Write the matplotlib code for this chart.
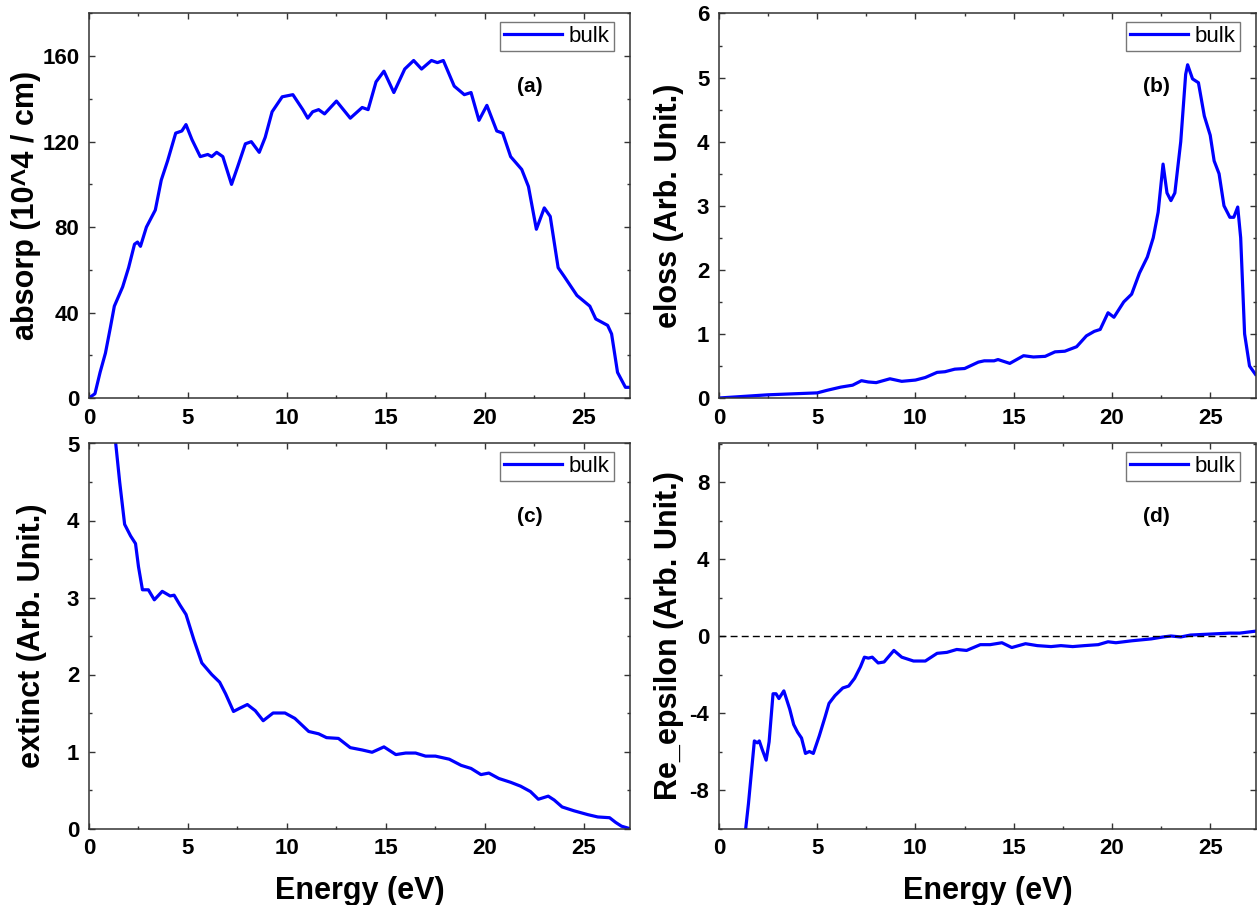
import matplotlib
matplotlib.use('Agg')
import matplotlib.pyplot as plt
from matplotlib.ticker import MultipleLocator, AutoMinorLocator

plt.rcParams['font.family'] = ['Liberation Sans', 'DejaVu Sans']
plt.rcParams['axes.unicode_minus'] = False

# (a) absorption
abs_e = [0, 0.3, 0.56, 0.83, 1.08, 1.28, 1.7, 2.0, 2.3, 2.45, 2.6, 2.9, 3.35, 3.65, 3.97, 4.38,
         4.69, 4.9, 5.2, 5.62, 6.0, 6.2, 6.45, 6.76, 7.2, 7.5, 7.9, 8.2, 8.6, 8.9, 9.25, 9.76,
         10.3, 10.8, 11.05, 11.3, 11.6, 11.9, 12.5, 13.2, 13.8, 14.1, 14.5, 14.9, 15.4, 15.95,
         16.4, 16.8, 17.3, 17.6, 17.9, 18.45, 18.96, 19.3, 19.7, 20.1, 20.6, 20.9, 21.3, 21.86,
         22.2, 22.6, 23.0, 23.3, 23.7, 24.0, 24.65, 25.3, 25.6, 26.2, 26.4, 26.7, 27.1, 27.3]
abs_v = [0, 2, 12, 21, 33, 43, 52, 61, 72, 73, 71, 80, 88, 102, 111, 124,
         125, 128, 121, 113, 114, 113, 115, 113, 100, 108, 119, 120, 115, 122, 134, 141,
         142, 135, 131, 134, 135, 133, 139, 131, 136, 135, 148, 153, 143, 154,
         158, 154, 158, 157, 158, 146, 142, 143, 130, 137, 125, 124, 113, 107,
         99, 79, 89, 85, 61, 57, 48, 43, 37, 34, 30, 12, 5, 5]

# (b) energy loss
loss_e = [0, 2.5, 5, 5.5, 6.2, 6.8, 7.25, 7.6, 8.0, 8.7, 9.3, 10.0, 10.5, 11.1, 11.5, 12.0,
          12.5, 13.2, 13.5, 14.0, 14.2, 14.8, 15.5, 16.0, 16.6, 17.1, 17.6, 18.2, 18.7, 19.1,
          19.4, 19.8, 20.1, 20.6, 21.0, 21.4, 21.8, 22.1, 22.35, 22.6, 22.8, 23.0, 23.2, 23.5,
          23.75, 23.85, 24.1, 24.4, 24.7, 25.0, 25.2, 25.45, 25.7, 26.0, 26.2, 26.4, 26.55,
          26.75, 27.0, 27.3]
loss_v = [0, 0.05, 0.08, 0.12, 0.17, 0.2, 0.27, 0.25, 0.24, 0.3, 0.26, 0.28, 0.32, 0.4, 0.41, 0.45,
          0.46, 0.56, 0.58, 0.58, 0.6, 0.54, 0.66, 0.64, 0.65, 0.72, 0.73, 0.8, 0.97, 1.04,
          1.07, 1.33, 1.26, 1.5, 1.62, 1.95, 2.2, 2.5, 2.9, 3.65, 3.2, 3.08, 3.2, 4.0,
          5.05, 5.2, 4.98, 4.92, 4.4, 4.1, 3.7, 3.5, 3.0, 2.82, 2.82, 2.98, 2.5,
          1.0, 0.5, 0.37]

# (c) extinction
ext_e = [1.35, 1.55, 1.8, 2.1, 2.35, 2.5, 2.7, 3.0, 3.3, 3.7, 4.1, 4.3, 4.6, 4.9, 5.3, 5.7,
         6.2, 6.6, 6.9, 7.3, 7.6, 8.0, 8.4, 8.8, 9.3, 9.9, 10.4, 11.1, 11.6, 12.0, 12.6, 13.2,
         13.8, 14.3, 14.9, 15.5, 16.0, 16.5, 17.0, 17.5, 18.2, 18.8, 19.3, 19.8, 20.2, 20.7,
         21.3, 21.8, 22.3, 22.7, 23.2, 23.5, 23.9, 24.5, 25.2, 25.7, 26.3, 26.6, 26.9, 27.3]
ext_v = [5.0, 4.5, 3.95, 3.8, 3.7, 3.4, 3.1, 3.1, 2.97, 3.08, 3.02, 3.03, 2.9, 2.78, 2.45, 2.15,
         2.0, 1.9, 1.75, 1.52, 1.56, 1.61, 1.53, 1.4, 1.5, 1.5, 1.43, 1.26, 1.23, 1.18, 1.17, 1.05,
         1.02, 0.99, 1.06, 0.96, 0.98, 0.98, 0.94, 0.94, 0.9, 0.82, 0.78, 0.7, 0.72, 0.65,
         0.6, 0.55, 0.48, 0.38, 0.42, 0.37, 0.28, 0.23, 0.18, 0.15, 0.14, 0.08, 0.03, 0.0]

# (d) real part of epsilon
eps_e = [1.36, 1.5, 1.8, 1.95, 2.05, 2.2, 2.4, 2.55, 2.75, 2.9, 3.05, 3.3, 3.6, 3.8, 4.0, 4.2,
         4.4, 4.6, 4.8, 5.1, 5.4, 5.6, 5.9, 6.3, 6.6, 6.9, 7.2, 7.4, 7.6, 7.8, 8.1, 8.4, 8.9,
         9.3, 9.9, 10.5, 11.1, 11.6, 12.1, 12.6, 13.3, 13.8, 14.4, 14.9, 15.6, 16.2, 16.9,
         17.4, 18.0, 18.6, 19.3, 19.8, 20.2, 21.0, 22.0, 22.6, 23.0, 23.5, 24.0, 25.0, 26.0,
         26.5, 27.3]
eps_v = [-10, -8.7, -5.45, -5.55, -5.45, -5.9, -6.45, -5.5, -3.0, -3.0, -3.25, -2.85, -3.8, -4.6,
         -5.0, -5.3, -6.1, -6.0, -6.1, -5.2, -4.2, -3.5, -3.1, -2.7, -2.6, -2.2, -1.6, -1.1,
         -1.15, -1.1, -1.4, -1.35, -0.75, -1.1, -1.3, -1.3, -0.9, -0.85, -0.7, -0.75, -0.45,
         -0.45, -0.35, -0.6, -0.4, -0.5, -0.55, -0.5, -0.55, -0.5, -0.45, -0.3, -0.35, -0.25,
         -0.15, -0.05, 0.0, -0.05, 0.05, 0.1, 0.15, 0.15, 0.25]

panels = [
    (abs_e, abs_v, 'absorp (10^4 / cm)', '(a)', (0, 180), 40, -0.089),
    (loss_e, loss_v, 'eloss (Arb. Unit.)', '(b)', (0, 6), 1, -0.065),
    (ext_e, ext_v, 'extinct (Arb. Unit.)', '(c)', (0, 5), 1, -0.078),
    (eps_e, eps_v, 'Re_epsilon (Arb. Unit.)', '(d)', (-10, 10), 4, -0.066),
]

fig = plt.figure(figsize=(12.58, 9.05), dpi=100)
boxes = [
    [89 / 1258, 1 - 398 / 905, 541 / 1258, 384.5 / 905],
    [719 / 1258, 1 - 398 / 905, 537 / 1258, 384.5 / 905],
    [89 / 1258, 1 - 828.5 / 905, 541 / 1258, 385 / 905],
    [719 / 1258, 1 - 828.5 / 905, 537 / 1258, 385 / 905],
]

for i, (x, y, ylab, tag, ylim, ystep, labx) in enumerate(panels):
    ax = fig.add_axes(boxes[i])
    ax.plot(x, y, color='#0000ff', lw=2.3, label='bulk')
    if tag == '(d)':
        ax.axhline(0, color='black', ls='--', lw=1.0, dashes=(5, 3))
    ax.set_xlim(0, 27.33)
    ax.set_ylim(*ylim)
    ax.xaxis.set_major_locator(MultipleLocator(5))
    ax.yaxis.set_major_locator(MultipleLocator(ystep))
    ax.xaxis.set_minor_locator(AutoMinorLocator(2))
    ax.yaxis.set_minor_locator(AutoMinorLocator(2))
    ax.tick_params(which='both', direction='in', top=True, right=True, width=1.0,
                   color='#333333')
    ax.tick_params(which='major', length=4.5, pad=7, labelsize=16)
    ax.tick_params(which='minor', length=2.5)
    for lbl in ax.get_xticklabels() + ax.get_yticklabels():
        lbl.set_fontweight('bold')
    for sp in ax.spines.values():
        sp.set_linewidth(1.1)
        sp.set_color('#333333')
    ax.set_ylabel(ylab, fontsize=22, fontweight='bold')
    ax.yaxis.set_label_coords(labx, 0.5)
    if i >= 2:
        ax.set_xlabel('Energy (eV)', fontsize=22, fontweight='bold', labelpad=12)
    ax.text(0.814, 0.81, tag, transform=ax.transAxes, ha='center', va='center',
            fontsize=15, fontweight='bold')
    leg = ax.legend(loc='upper right', bbox_to_anchor=(0.970, 0.979), fontsize=16,
                    handlelength=2.6, handletextpad=0.3, borderpad=0.2, borderaxespad=0,
                    fancybox=False, framealpha=1)
    leg.get_frame().set_edgecolor('#777777')
    leg.get_frame().set_linewidth(1.0)

plt.savefig('out.png', dpi=100)
